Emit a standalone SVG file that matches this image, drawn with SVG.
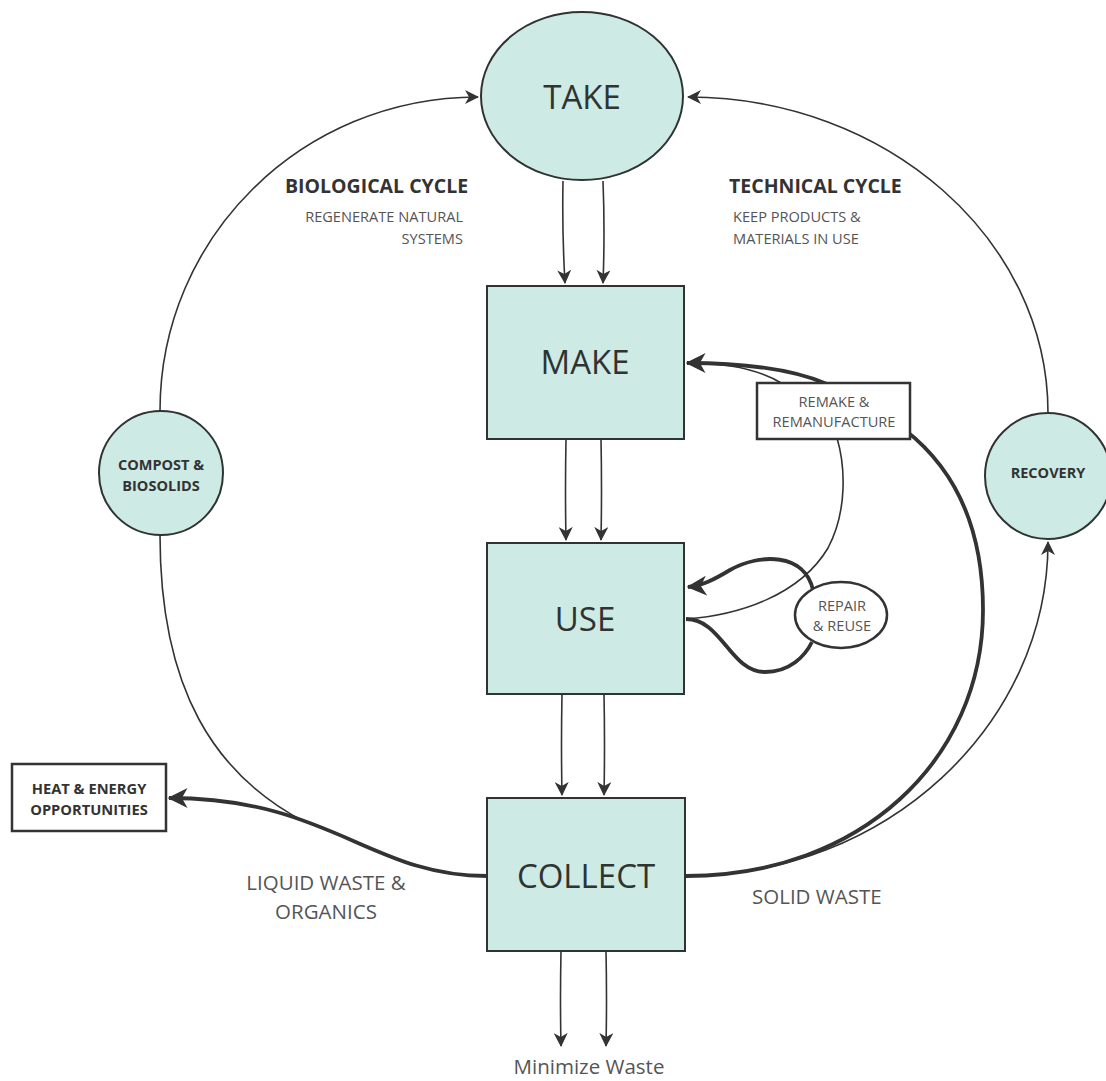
<svg xmlns="http://www.w3.org/2000/svg" width="1106" height="1081" viewBox="0 0 1106 1081">
  <style>
    .node { fill: #cdebe4; stroke: #2f3432; stroke-width: 2; }
    .plain { fill: #ffffff; stroke: #333333; stroke-width: 2.5; }
    .thin { fill: none; stroke: #333333; stroke-width: 1.6; }
    .thick { fill: none; stroke: #333333; stroke-width: 3.8; }
    .big { font-family: "Open Sans", "Liberation Sans", sans-serif; font-size: 33px; fill: #2f3432; text-anchor: middle; }
    .bold { font-family: "Open Sans", "Liberation Sans", sans-serif; font-weight: bold; fill: #333333; }
    .small { font-family: "Open Sans", "Liberation Sans", sans-serif; font-size: 14.6px; fill: #555555; }
    .label { font-family: "Open Sans", "Liberation Sans", sans-serif; font-size: 20.5px; fill: #555555; }
  </style>
  <defs>
    <marker id="arrow" viewBox="0 0 14 14" refX="13" refY="7" markerWidth="14" markerHeight="14" markerUnits="userSpaceOnUse" orient="auto">
      <path d="M0,0 L14,7 L0,14 L4,7 z" fill="#333333"/>
    </marker>
    <marker id="arrowBig" viewBox="0 0 14 14" refX="13" refY="7" markerWidth="20" markerHeight="20" markerUnits="userSpaceOnUse" orient="auto">
      <path d="M0,0 L14,7 L0,14 L4,7 z" fill="#333333"/>
    </marker>
  </defs>

  <rect width="1106" height="1081" fill="#ffffff"/>

  <!-- connectors -->
  <g id="connectors">
    <!-- outer biological loop -->
    <path class="thin" d="M160,411 C160,237 302,97 478,97" marker-end="url(#arrow)"/>
    <path class="thin" d="M160,535 C160,690 215,775 305,822"/>
    <!-- outer technical loop -->
    <path class="thin" d="M1048,413 C1048,239 886,97 688,97" marker-end="url(#arrow)"/>
    <path class="thin" d="M686,876 C886,876 1048,725 1048,542" marker-end="url(#arrow)"/>

    <!-- main flow -->
    <path class="thin" d="M563,181 Q562,232 565,283" marker-end="url(#arrow)"/>
    <path class="thin" d="M603,181 Q605,232 603,283" marker-end="url(#arrow)"/>
    <path class="thin" d="M566,439 Q565,490 566,540" marker-end="url(#arrow)"/>
    <path class="thin" d="M601,439 Q602,490 601,540" marker-end="url(#arrow)"/>
    <path class="thin" d="M562,694 Q561,745 562,795" marker-end="url(#arrow)"/>
    <path class="thin" d="M604,694 Q605,745 604,795" marker-end="url(#arrow)"/>
    <path class="thin" d="M561,951 Q560,1000 561,1046" marker-end="url(#arrow)"/>
    <path class="thin" d="M606,951 Q607,1000 606,1046" marker-end="url(#arrow)"/>

    <!-- heat & energy branch -->
    <path class="thick" d="M487,876 C370,876 330,798 169,798" marker-end="url(#arrowBig)"/>

    <!-- remake loop -->
    <path class="thick" d="M686,876 C860,876 983,760 983,610 C983,520 950,465 905,430"/>
    <path class="thin" d="M783,384 C760,370 730,363 690,363"/>
    <path class="thick" d="M827,384 C790,368 740,363 687,363" marker-end="url(#arrowBig)"/>
    <path class="thin" d="M686,619 C740,615 800,595 828,548 C848,510 845,465 837,438"/>

    <!-- repair loop -->
    <path class="thick" d="M813,590 C805,553 760,553 730,570 C715,579 702,586 688,587" marker-end="url(#arrowBig)"/>
    <path class="thick" d="M686,619 C722,619 730,672 765,672 C790,672 805,656 812,642"/>
  </g>

  <!-- nodes -->
  <g id="take">
    <ellipse class="node" cx="582" cy="96" rx="101" ry="84"/>
    <text class="big" x="582" y="109">TAKE</text>
  </g>
  <g id="make">
    <rect class="node" x="487" y="286" width="197" height="153"/>
    <text class="big" x="585" y="374">MAKE</text>
  </g>
  <g id="use">
    <rect class="node" x="487" y="543" width="197" height="151"/>
    <text class="big" x="585" y="631">USE</text>
  </g>
  <g id="collect">
    <rect class="node" x="487" y="798" width="198" height="153"/>
    <text class="big" x="586" y="888">COLLECT</text>
  </g>
  <g id="compost">
    <circle class="node" cx="161" cy="473" r="62"/>
    <text class="bold" font-size="14.5" text-anchor="middle" x="161" y="470">COMPOST &amp;</text>
    <text class="bold" font-size="14.5" text-anchor="middle" x="161" y="491">BIOSOLIDS</text>
  </g>
  <g id="recovery">
    <circle class="node" cx="1048" cy="476" r="63"/>
    <text class="bold" font-size="14.5" text-anchor="middle" x="1048" y="478">RECOVERY</text>
  </g>
  <g id="heat-energy">
    <rect class="plain" x="12" y="764" width="154" height="67"/>
    <text class="bold" font-size="14.7" text-anchor="middle" x="89" y="793.5">HEAT &amp; ENERGY</text>
    <text class="bold" font-size="14.7" text-anchor="middle" x="89" y="814.5">OPPORTUNITIES</text>
  </g>
  <g id="remake">
    <rect class="plain" x="757" y="383" width="153" height="56" stroke-width="2"/>
    <text class="small" text-anchor="middle" x="834" y="407">REMAKE &amp;</text>
    <text class="small" text-anchor="middle" x="834" y="427">REMANUFACTURE</text>
  </g>
  <g id="repair">
    <ellipse class="plain" cx="841" cy="615" rx="46" ry="33" stroke-width="2"/>
    <text class="small" text-anchor="middle" x="842" y="611">REPAIR</text>
    <text class="small" text-anchor="middle" x="842" y="631">&amp; REUSE</text>
  </g>

  <!-- cycle captions -->
  <g id="captions">
    <text class="bold" font-size="19.5" x="285" y="193">BIOLOGICAL CYCLE</text>
    <text class="small" text-anchor="end" x="463" y="222">REGENERATE NATURAL</text>
    <text class="small" text-anchor="end" x="463" y="244">SYSTEMS</text>
    <text class="bold" font-size="19.5" x="729" y="193">TECHNICAL CYCLE</text>
    <text class="small" x="733" y="222">KEEP PRODUCTS &amp;</text>
    <text class="small" x="733" y="244">MATERIALS IN USE</text>
    <text class="label" text-anchor="middle" x="326" y="890">LIQUID WASTE &amp;</text>
    <text class="label" text-anchor="middle" x="326" y="919">ORGANICS</text>
    <text class="label" x="752" y="904">SOLID WASTE</text>
    <text class="label" font-size="20" text-anchor="middle" x="589" y="1074">Minimize Waste</text>
  </g>
</svg>
